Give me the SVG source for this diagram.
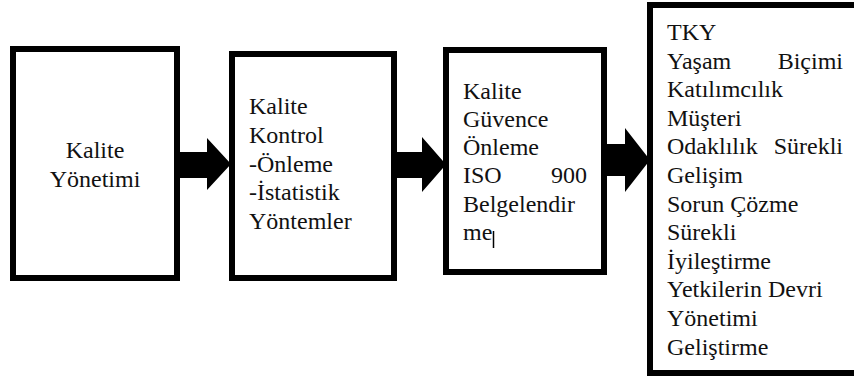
<svg xmlns="http://www.w3.org/2000/svg" width="854" height="380" viewBox="0 0 854 380">
<style>
.box{fill:#fff;stroke:#000;stroke-width:6;stroke-linejoin:miter}
.t{font-family:"Liberation Serif","Times New Roman",serif;font-size:24px;fill:#111}
.c{text-anchor:middle}
.e{text-anchor:end}
.arr{fill:#000}
</style>
<rect width="854" height="380" fill="#fff"/>
<g id="connectors">
<polygon class="arr" points="180,152 207,152 207,138 231,164 207,190 207,178 180,178"/>
<polygon class="arr" points="397,152 422,152 422,137 446,164.5 422,192 422,178 397,178"/>
<polygon class="arr" points="607,144 625,144 625,128 650,160 625,192 625,176 607,176"/>
</g>
<g id="node1">
<rect class="box" x="13" y="49" width="164" height="229"/>
<text class="t c" x="95" y="158">Kalite</text>
<text class="t c" x="95" y="187">Yönetimi</text>
</g>
<g id="node2">
<rect class="box" x="232" y="54" width="162" height="224"/>
<text class="t" x="249" y="114">Kalite</text>
<text class="t" x="249" y="143">Kontrol</text>
<text class="t" x="249" y="172">-Önleme</text>
<text class="t" x="249" y="200">-İstatistik</text>
<text class="t" x="249" y="229">Yöntemler</text>
</g>
<g id="node3">
<rect class="box" x="446" y="50" width="158" height="222"/>
<text class="t" x="463" y="99">Kalite</text>
<text class="t" x="463" y="127">Güvence</text>
<text class="t" x="463" y="155">Önleme</text>
<text class="t" x="463" y="183">ISO</text>
<text class="t e" x="587" y="183">900</text>
<text class="t" x="463" y="212">Belgelendir</text>
<text class="t" x="463" y="240">me</text>
<line x1="493.5" y1="231" x2="493.5" y2="248" stroke="#000" stroke-width="1.5"/>
</g>
<g id="node4">
<rect class="box" x="650" y="5" width="220" height="368"/>
<text class="t" x="667" y="40">TKY</text>
<text class="t" x="667" y="68.6">Yaşam</text>
<text class="t e" x="843" y="68.6">Biçimi</text>
<text class="t" x="667" y="97.2">Katılımcılık</text>
<text class="t" x="667" y="125.8">Müşteri</text>
<text class="t" x="667" y="154.4">Odaklılık</text>
<text class="t e" x="843" y="154.4">Sürekli</text>
<text class="t" x="667" y="183">Gelişim</text>
<text class="t" x="667" y="211.6">Sorun Çözme</text>
<text class="t" x="667" y="240.2">Sürekli</text>
<text class="t" x="667" y="268.8">İyileştirme</text>
<text class="t" x="667" y="297.4">Yetkilerin Devri</text>
<text class="t" x="667" y="326">Yönetimi</text>
<text class="t" x="667" y="354.6">Geliştirme</text>
</g>
</svg>
